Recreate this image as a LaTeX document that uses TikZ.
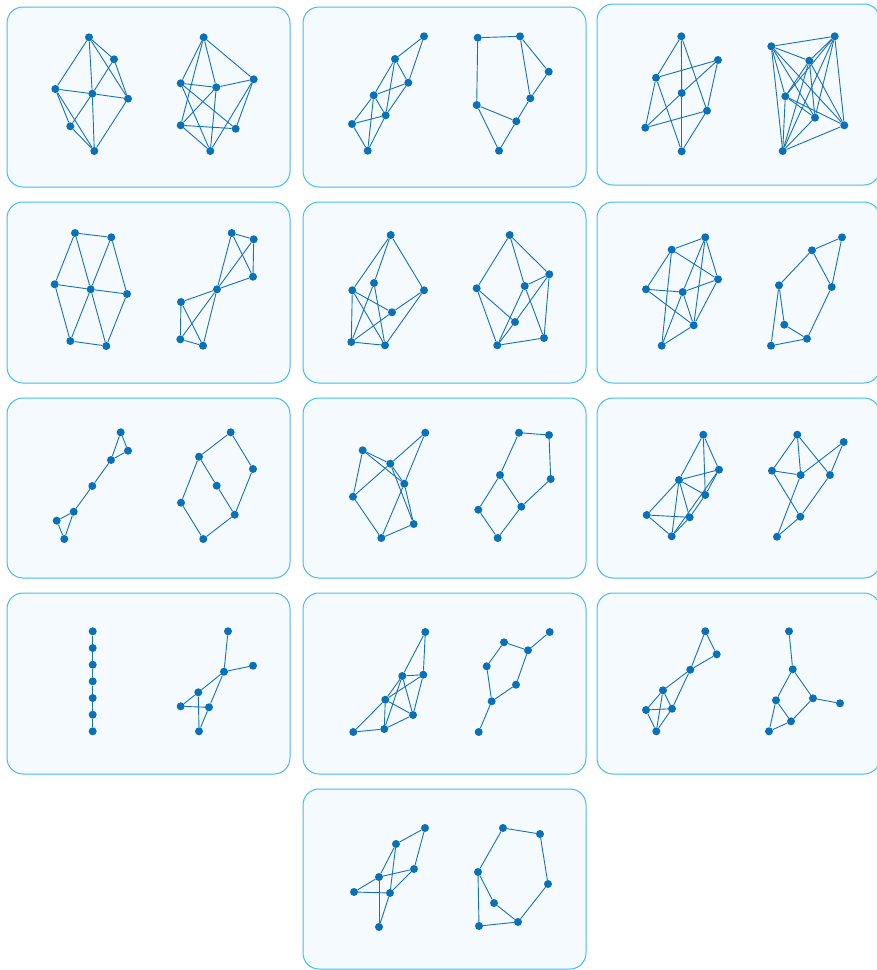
\documentclass[tikz,border=0pt]{standalone}
\begin{document}
\begin{tikzpicture}[x=1pt,y=-1pt,
  panel/.style={draw=panelborder,fill=panelfill,rounded corners=16pt,line width=1pt},
  v/.style={circle,fill=nodeblue,inner sep=0pt,minimum size=8pt},
  e/.style={draw=edgeblue,line width=0.9pt}]
\definecolor{panelborder}{HTML}{45BDEA}
\definecolor{panelfill}{HTML}{F4FAFE}
\definecolor{nodeblue}{HTML}{0A70B8}
\definecolor{edgeblue}{HTML}{1672B8}
\clip (0,0) rectangle (877,970);
\fill[white] (0,0) rectangle (877,970);
% panels
\draw[panel] (7,7) rectangle (290,187);
\draw[panel] (303,7) rectangle (586,187);
\draw[panel] (597,4) rectangle (880,185);
\draw[panel] (7,202) rectangle (290,383);
\draw[panel] (303,202) rectangle (586,383);
\draw[panel] (597,202) rectangle (880,383);
\draw[panel] (7,398) rectangle (290,578);
\draw[panel] (303,398) rectangle (586,578);
\draw[panel] (597,398) rectangle (880,578);
\draw[panel] (7,593) rectangle (290,774);
\draw[panel] (303,593) rectangle (586,774);
\draw[panel] (597,593) rectangle (880,774);
\draw[panel] (303,789) rectangle (586,969);

% ---------- panel 1 ----------
\node[v] (p1A) at (89,37.3) {};
\node[v] (p1B) at (114,59.3) {};
\node[v] (p1C) at (55.3,89) {};
\node[v] (p1D) at (92.3,93.7) {};
\node[v] (p1E) at (128,98.7) {};
\node[v] (p1F) at (70.3,126.3) {};
\node[v] (p1G) at (94.3,151) {};
\foreach \a/\b in {A/B,A/C,A/D,A/E,B/D,B/E,C/D,D/E,D/F,C/F,C/G,F/G,D/G,E/G}
  \draw[e] (p1\a) -- (p1\b);
\node[v] (p1a) at (203.7,37.3) {};
\node[v] (p1b) at (253.7,79.3) {};
\node[v] (p1c) at (180.7,83.3) {};
\node[v] (p1d) at (216.3,87.3) {};
\node[v] (p1e) at (180.7,125.3) {};
\node[v] (p1f) at (235.7,128.7) {};
\node[v] (p1g) at (210.3,151) {};
\foreach \a/\b in {a/b,a/c,a/d,a/e,c/d,d/b,c/f,c/g,d/e,d/g,e/f,e/g,b/f,b/g}
  \draw[e] (p1\a) -- (p1\b);

% ---------- panel 2 ----------
\node[v] (p2A) at (424,36.3) {};
\node[v] (p2B) at (395,59) {};
\node[v] (p2C) at (408.3,82.7) {};
\node[v] (p2D) at (373.7,95.3) {};
\node[v] (p2E) at (385.7,115.3) {};
\node[v] (p2F) at (352,124) {};
\node[v] (p2G) at (367.7,150.7) {};
\foreach \a/\b in {A/B,A/C,B/C,B/D,B/E,C/D,C/E,D/E,D/F,D/G,E/F,E/G,F/G}
  \draw[e] (p2\a) -- (p2\b);
\node[v] (p2a) at (477.7,37.7) {};
\node[v] (p2b) at (520,36.3) {};
\node[v] (p2c) at (548.7,71.7) {};
\node[v] (p2d) at (530.3,98.3) {};
\node[v] (p2e) at (476.7,105) {};
\node[v] (p2f) at (516.3,121.3) {};
\node[v] (p2g) at (499,150.7) {};
\foreach \a/\b in {a/b,a/e,b/d,b/c,c/d,d/f,e/f,e/g,f/g}
  \draw[e] (p2\a) -- (p2\b);

% ---------- panel 3 ----------
\node[v] (p3A) at (681.3,36.3) {};
\node[v] (p3B) at (718,60) {};
\node[v] (p3C) at (656,77.7) {};
\node[v] (p3D) at (681.7,93) {};
\node[v] (p3E) at (707,110.7) {};
\node[v] (p3F) at (645.3,127.7) {};
\node[v] (p3G) at (681.7,151.3) {};
\foreach \a/\b in {A/C,A/D,A/E,B/C,B/D,B/E,C/F,C/G,D/F,D/G,E/F,E/G}
  \draw[e] (p3\a) -- (p3\b);
\node[v] (p3a) at (771.3,46.3) {};
\node[v] (p3b) at (834.7,36.3) {};
\node[v] (p3c) at (809.3,60.7) {};
\node[v] (p3d) at (785.3,96.3) {};
\node[v] (p3e) at (815,117.7) {};
\node[v] (p3f) at (844.3,125.3) {};
\node[v] (p3g) at (782.7,151) {};
\foreach \a/\b in {a/b,a/c,a/d,a/e,a/f,a/g,b/c,b/d,b/e,b/f,b/g,c/d,c/e,c/f,c/g,d/e,d/f,d/g,e/g,f/g}
  \draw[e] (p3\a) -- (p3\b);

% ---------- panel 4 ----------
\node[v] (p4A) at (75,233) {};
\node[v] (p4B) at (111.3,237.3) {};
\node[v] (p4C) at (54.7,284.3) {};
\node[v] (p4D) at (90.7,289.3) {};
\node[v] (p4E) at (127,294) {};
\node[v] (p4F) at (70.3,341) {};
\node[v] (p4G) at (106.3,346) {};
\foreach \a/\b in {A/B,A/C,A/D,B/D,B/E,C/D,D/E,C/F,D/F,D/G,E/G,F/G}
  \draw[e] (p4\a) -- (p4\b);
\node[v] (p4a) at (231.7,233) {};
\node[v] (p4b) at (253.7,239.3) {};
\node[v] (p4c) at (253,276.7) {};
\node[v] (p4d) at (217,289.3) {};
\node[v] (p4e) at (181,302) {};
\node[v] (p4f) at (180.3,339.3) {};
\node[v] (p4g) at (203,345.7) {};
\foreach \a/\b in {a/b,b/c,a/c,a/d,b/d,c/d,d/e,d/f,d/g,e/f,e/g,f/g}
  \draw[e] (p4\a) -- (p4\b);

% ---------- panel 5 ----------
\node[v] (p5A) at (390.7,235) {};
\node[v] (p5B) at (374,283) {};
\node[v] (p5C) at (352.3,290.3) {};
\node[v] (p5D) at (424,290.3) {};
\node[v] (p5E) at (392,312.3) {};
\node[v] (p5F) at (351.3,342) {};
\node[v] (p5G) at (385,345.3) {};
\foreach \a/\b in {A/C,A/B,A/D,C/E,C/F,C/G,B/F,B/G,D/E,D/G,E/F,F/G}
  \draw[e] (p5\a) -- (p5\b);
\node[v] (p5a) at (509.7,235) {};
\node[v] (p5b) at (549.3,274.3) {};
\node[v] (p5c) at (476.7,288.3) {};
\node[v] (p5d) at (524.7,286) {};
\node[v] (p5e) at (515,322) {};
\node[v] (p5f) at (544,338) {};
\node[v] (p5g) at (497.3,345.3) {};
\foreach \a/\b in {a/c,a/d,a/b,c/e,c/g,d/b,d/g,d/f,b/e,b/f,e/g,g/f}
  \draw[e] (p5\a) -- (p5\b);

% ---------- panel 6 ----------
\node[v] (p6A) at (705.3,237.3) {};
\node[v] (p6B) at (671.7,249.7) {};
\node[v] (p6C) at (718,279.3) {};
\node[v] (p6D) at (646,289.3) {};
\node[v] (p6E) at (682.7,292) {};
\node[v] (p6F) at (693.7,325.3) {};
\node[v] (p6G) at (661.7,345.7) {};
\foreach \a/\b in {A/B,A/C,A/E,A/F,B/C,B/G,C/E,C/F,D/B,D/E,D/F,E/F,E/G,F/G}
  \draw[e] (p6\a) -- (p6\b);
\node[v] (p6a) at (842,237.3) {};
\node[v] (p6b) at (812,250.3) {};
\node[v] (p6c) at (779,285.3) {};
\node[v] (p6d) at (831.7,287) {};
\node[v] (p6e) at (784.3,324.7) {};
\node[v] (p6f) at (807,338.7) {};
\node[v] (p6g) at (771,345.7) {};
\foreach \a/\b in {a/b,a/d,b/c,b/d,c/e,c/g,e/f,d/f,f/g}
  \draw[e] (p6\a) -- (p6\b);

% ---------- panel 7 ----------
\node[v] (p7A) at (120.7,432.3) {};
\node[v] (p7B) at (128,450.7) {};
\node[v] (p7C) at (111,460) {};
\node[v] (p7D) at (92.3,486) {};
\node[v] (p7E) at (73.7,511.7) {};
\node[v] (p7F) at (56.7,520.7) {};
\node[v] (p7G) at (64.3,539) {};
\foreach \a/\b in {A/B,A/C,B/C,C/D,D/E,E/F,E/G,F/G}
  \draw[e] (p7\a) -- (p7\b);
\node[v] (p7a) at (230.7,432.3) {};
\node[v] (p7b) at (199,456.7) {};
\node[v] (p7c) at (253,469) {};
\node[v] (p7d) at (216.7,485.7) {};
\node[v] (p7e) at (181,502.7) {};
\node[v] (p7f) at (234.7,514.7) {};
\node[v] (p7g) at (203.3,539) {};
\foreach \a/\b in {a/b,a/c,b/d,b/e,d/f,c/f,e/g,f/g}
  \draw[e] (p7\a) -- (p7\b);

% ---------- panel 8 ----------
\node[v] (p8A) at (425.3,432.7) {};
\node[v] (p8B) at (362.7,450.3) {};
\node[v] (p8C) at (390.3,463.7) {};
\node[v] (p8D) at (404.3,483.7) {};
\node[v] (p8E) at (353,496.7) {};
\node[v] (p8F) at (413.7,524) {};
\node[v] (p8G) at (381.3,538) {};
\foreach \a/\b in {A/C,A/D,B/C,B/D,B/E,C/E,C/D,C/F,D/F,D/G,E/G,G/F}
  \draw[e] (p8\a) -- (p8\b);
\node[v] (p8a) at (519,432.7) {};
\node[v] (p8b) at (549,435) {};
\node[v] (p8c) at (500,475) {};
\node[v] (p8d) at (550.7,479) {};
\node[v] (p8e) at (478.3,509.7) {};
\node[v] (p8f) at (521.3,506.7) {};
\node[v] (p8g) at (497.7,538) {};
\foreach \a/\b in {a/b,a/c,b/d,d/f,c/f,c/e,e/g,f/g}
  \draw[e] (p8\a) -- (p8\b);

% ---------- panel 9 ----------
\node[v] (p9A) at (703.3,434.7) {};
\node[v] (p9B) at (719,469.7) {};
\node[v] (p9C) at (679,480) {};
\node[v] (p9D) at (705.3,495) {};
\node[v] (p9E) at (646.7,515) {};
\node[v] (p9F) at (689.7,517.3) {};
\node[v] (p9G) at (671.7,536.3) {};
\foreach \a/\b in {A/C,A/D,A/B,C/B,C/D,C/E,C/F,C/G,B/D,B/G,D/F,E/F,E/G,F/G}
  \draw[e] (p9\a) -- (p9\b);
\node[v] (p9a) at (797.3,434.7) {};
\node[v] (p9b) at (843.7,442) {};
\node[v] (p9c) at (772,470.7) {};
\node[v] (p9d) at (800.7,475) {};
\node[v] (p9e) at (830,475) {};
\node[v] (p9f) at (800.3,516.7) {};
\node[v] (p9g) at (777,536.7) {};
\foreach \a/\b in {a/c,a/d,a/e,c/d,d/b,b/e,c/f,d/g,e/f,f/g}
  \draw[e] (p9\a) -- (p9\b);

% ---------- panel 10 ----------
\foreach \i/\y in {1/631.3,2/648,3/664.7,4/681.3,5/698,6/714.7,7/731.3}
  \node[v] (p10n\i) at (92.7,\y) {};
\foreach \a/\b in {1/2,2/3,3/4,4/5,5/6,6/7}
  \draw[e] (p10n\a) -- (p10n\b);
\node[v] (p10a) at (228,631.3) {};
\node[v] (p10b) at (253,665.7) {};
\node[v] (p10c) at (224,671.7) {};
\node[v] (p10d) at (198.3,692.3) {};
\node[v] (p10e) at (180.7,706.3) {};
\node[v] (p10f) at (209,707.3) {};
\node[v] (p10g) at (199,731.3) {};
\foreach \a/\b in {a/c,b/c,c/d,c/f,d/e,d/g,e/f,f/g}
  \draw[e] (p10\a) -- (p10\b);

% ---------- panel 11 ----------
\node[v] (p11A) at (425.3,632) {};
\node[v] (p11B) at (402.3,676) {};
\node[v] (p11C) at (423.3,674.7) {};
\node[v] (p11D) at (385.3,699.7) {};
\node[v] (p11E) at (413,715) {};
\node[v] (p11F) at (353.3,732) {};
\node[v] (p11G) at (384.3,729) {};
\foreach \a/\b in {A/B,A/C,B/C,B/D,B/E,B/G,C/D,C/E,D/E,D/F,D/G,F/G,G/E}
  \draw[e] (p11\a) -- (p11\b);
\node[v] (p11a) at (549.7,632) {};
\node[v] (p11b) at (504,642.3) {};
\node[v] (p11c) at (528,650.3) {};
\node[v] (p11d) at (486.7,666.3) {};
\node[v] (p11e) at (516,684.7) {};
\node[v] (p11f) at (491.7,701.3) {};
\node[v] (p11g) at (478.7,732) {};
\foreach \a/\b in {a/c,b/c,b/d,c/e,d/f,e/f,f/g}
  \draw[e] (p11\a) -- (p11\b);

% ---------- panel 12 ----------
\node[v] (p12A) at (705.3,631.3) {};
\node[v] (p12B) at (716.7,654.3) {};
\node[v] (p12C) at (690.3,669.7) {};
\node[v] (p12D) at (663,690.3) {};
\node[v] (p12E) at (646,710) {};
\node[v] (p12F) at (672,708.7) {};
\node[v] (p12G) at (656.3,731.3) {};
\foreach \a/\b in {A/B,A/C,B/C,C/D,C/F,D/E,D/F,D/G,E/F,E/G,F/G}
  \draw[e] (p12\a) -- (p12\b);
\node[v] (p12a) at (789,631.3) {};
\node[v] (p12b) at (792.7,669.3) {};
\node[v] (p12c) at (813,698.3) {};
\node[v] (p12d) at (776,700.3) {};
\node[v] (p12e) at (840,703.3) {};
\node[v] (p12f) at (791,721.3) {};
\node[v] (p12g) at (769,731.3) {};
\foreach \a/\b in {a/b,b/c,b/d,c/e,c/f,d/f,d/g,f/g}
  \draw[e] (p12\a) -- (p12\b);

% ---------- panel 13 ----------
\node[v] (p13A) at (425,828) {};
\node[v] (p13B) at (396,844) {};
\node[v] (p13C) at (414,869) {};
\node[v] (p13D) at (379,877) {};
\node[v] (p13E) at (354,892) {};
\node[v] (p13F) at (390,893) {};
\node[v] (p13G) at (379,927) {};
\foreach \a/\b in {A/B,A/C,B/D,B/F,D/C,E/F,E/D,D/G,F/G,F/C}
  \draw[e] (p13\a) -- (p13\b);
\node[v] (p13a) at (503,828) {};
\node[v] (p13b) at (540,834) {};
\node[v] (p13c) at (548,884) {};
\node[v] (p13d) at (478,872) {};
\node[v] (p13e) at (494,903) {};
\node[v] (p13f) at (518,922) {};
\node[v] (p13g) at (479,926) {};
\foreach \a/\b in {a/b,b/c,c/f,a/d,d/e,e/f,d/g,g/f}
  \draw[e] (p13\a) -- (p13\b);
\end{tikzpicture}
\end{document}
